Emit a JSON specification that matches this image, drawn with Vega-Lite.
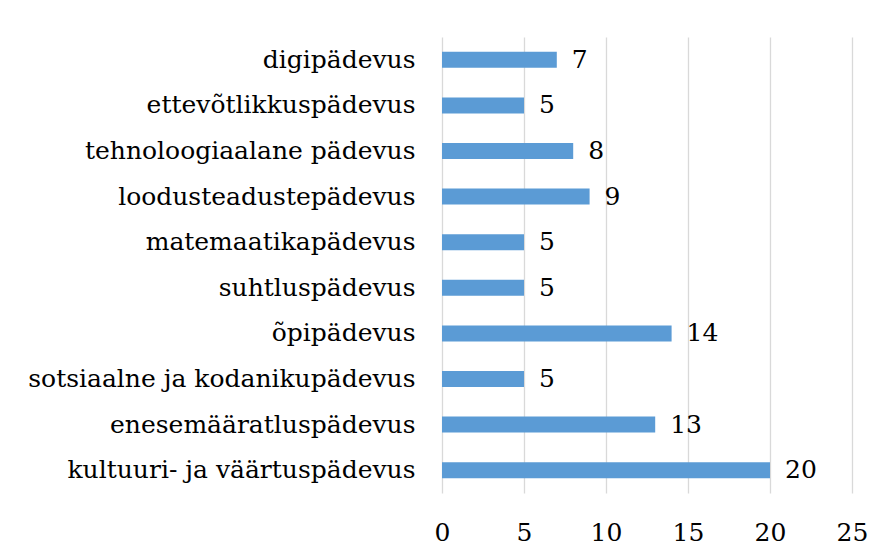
{
  "$schema": "https://vega.github.io/schema/vega-lite/v6.json",
  "width": 410,
  "height": 456,
  "autosize": {"type": "none"},
  "padding": {"left": 442, "top": 37, "right": 33, "bottom": 67},
  "background": "white",
  "config": {
    "view": {"stroke": null},
    "font": "DejaVu Serif",
    "axis": {"labelFont": "DejaVu Serif", "labelColor": "#000000", "labelFontSize": 25}
  },
  "data": {
    "values": [
      {"category": "digipädevus", "value": 7},
      {"category": "ettevõtlikkuspädevus", "value": 5},
      {"category": "tehnoloogiaalane pädevus", "value": 8},
      {"category": "loodusteadustepädevus", "value": 9},
      {"category": "matemaatikapädevus", "value": 5},
      {"category": "suhtluspädevus", "value": 5},
      {"category": "õpipädevus", "value": 14},
      {"category": "sotsiaalne ja kodanikupädevus", "value": 5},
      {"category": "enesemääratluspädevus", "value": 13},
      {"category": "kultuuri- ja väärtuspädevus", "value": 20}
    ]
  },
  "encoding": {
    "y": {
      "field": "category",
      "type": "nominal",
      "sort": null,
      "scale": {"paddingInner": 0.65, "paddingOuter": 0.325},
      "axis": {"title": null, "domain": false, "ticks": false, "grid": false, "labelPadding": 27, "labelLimit": 500}
    },
    "x": {
      "field": "value",
      "type": "quantitative",
      "scale": {"domain": [0, 25], "nice": false},
      "axis": {"title": null, "values": [0, 5, 10, 15, 20, 25], "domain": false, "ticks": false, "grid": true, "gridColor": "#D9D9D9", "gridWidth": 1.3, "labelPadding": 27, "labelFlush": false}
    }
  },
  "layer": [
    {"mark": {"type": "bar", "color": "#5B9BD5"}},
    {"mark": {"type": "text", "align": "left", "baseline": "middle", "dx": 15, "fontSize": 25, "font": "DejaVu Serif", "color": "#000000"},
     "encoding": {"text": {"field": "value", "type": "quantitative"}}}
  ]
}
